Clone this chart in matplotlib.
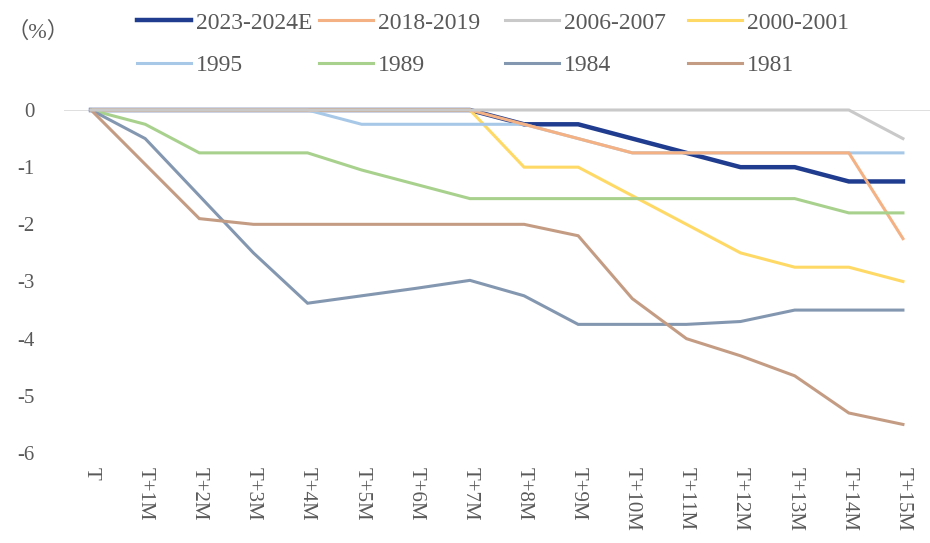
import matplotlib
matplotlib.use("Agg")
import matplotlib.pyplot as plt

# ---------------------------------------------------------------------------
# months after the first cut
months = ["T", "T+1M", "T+2M", "T+3M", "T+4M", "T+5M", "T+6M", "T+7M",
          "T+8M", "T+9M", "T+10M", "T+11M", "T+12M", "T+13M", "T+14M", "T+15M"]

# cumulative change in the policy rate (%)
cycle_2023 = [0, 0, 0, 0, 0, 0, 0, 0, -0.25, -0.25, -0.5, -0.75, -1.0, -1.0, -1.25, -1.25]
cycle_2018 = [0, 0, 0, 0, 0, 0, 0, 0, -0.25, -0.5, -0.75, -0.75, -0.75, -0.75, -0.75, -2.25]
cycle_2006 = [0, 0, 0, 0, 0, 0, 0, 0, 0, 0, 0, 0, 0, 0, 0, -0.5]
cycle_2000 = [0, 0, 0, 0, 0, 0, 0, 0, -1.0, -1.0, -1.5, -2.0, -2.5, -2.75, -2.75, -3.0]
cycle_1995 = [0, 0, 0, 0, 0, -0.25, -0.25, -0.25, -0.25, -0.5, -0.75, -0.75, -0.75, -0.75, -0.75, -0.75]
cycle_1989 = [0, -0.25, -0.75, -0.75, -0.75, -1.05, -1.3, -1.55, -1.55, -1.55, -1.55, -1.55, -1.55, -1.55, -1.8, -1.8]
cycle_1984 = [0, -0.5, -1.5, -2.5, -3.38, -3.25, -3.12, -2.98, -3.25, -3.75, -3.75, -3.75, -3.7, -3.5, -3.5, -3.5]
cycle_1981 = [0, -0.95, -1.9, -2.0, -2.0, -2.0, -2.0, -2.0, -2.0, -2.2, -3.3, -4.0, -4.3, -4.65, -5.3, -5.5]

labels = ["2023-2024E", "2018-2019", "2006-2007", "2000-2001",
          "1995", "1989", "1984", "1981"]
series = [cycle_2023, cycle_2018, cycle_2006, cycle_2000,
          cycle_1995, cycle_1989, cycle_1984, cycle_1981]
colors = ["#1F3C8E", "#F4B183", "#C9C9C9", "#FFD966",
          "#A8C8E8", "#A9D18E", "#8497B0", "#C49C84"]
widths = [3.2, 2.2, 2.2, 2.2, 2.2, 2.2, 2.2, 2.2]
# stacking order of the lines (higher is drawn on top)
zorders = [2, 6, 10, 4, 5, 7, 8, 9]

plt.rcParams["font.family"] = ["Liberation Serif", "Noto Sans CJK SC"]
text_color = "#595959"

fig = plt.figure(figsize=(9.3, 5.43), dpi=100)
ax = fig.add_axes([64 / 930, 1 - 453 / 543, 866 / 930, 343 / 543])

x = list(range(len(months)))
handles = []
for i in range(len(series)):
    (h,) = ax.plot(x, series[i], color=colors[i], lw=widths[i],
                   solid_joinstyle="miter", zorder=zorders[i], clip_on=False,
                   label=labels[i])
    handles.append(h)

ax.axhline(0, color="#D9D9D9", lw=1.2, zorder=1)

ax.set_xlim(-0.5, len(months) - 0.5)
ax.set_ylim(-6, 0)
ax.set_yticks(range(-6, 1))
ax.set_yticklabels([str(v) for v in range(-6, 1)])
ax.set_xticks(x)
ax.set_xticklabels(months, rotation=-90, va="top", ha="center")
ax.tick_params(axis="both", length=0, labelsize=15, colors=text_color)
ax.tick_params(axis="x", pad=10)
ax.tick_params(axis="y", pad=21)
for s in ax.spines.values():
    s.set_visible(False)

fig.text(6 / 930, 1 - 32 / 543, "（%）", fontsize=16, color=text_color,
         va="center", ha="left")

# one small legend per column so the columns sit on a fixed grid
col_x = [137, 319, 505, 688]
for c in range(4):
    leg = fig.legend([handles[c], handles[c + 4]], [labels[c], labels[c + 4]],
                     loc="upper left", bbox_to_anchor=(col_x[c] / 930, 1 - 12 / 543),
                     frameon=False, fontsize=17, handlelength=2.3,
                     handletextpad=0.2, labelspacing=0.88,
                     borderpad=0, borderaxespad=0)
    for t in leg.get_texts():
        t.set_color(text_color)

fig.savefig("out.png", dpi=100)
